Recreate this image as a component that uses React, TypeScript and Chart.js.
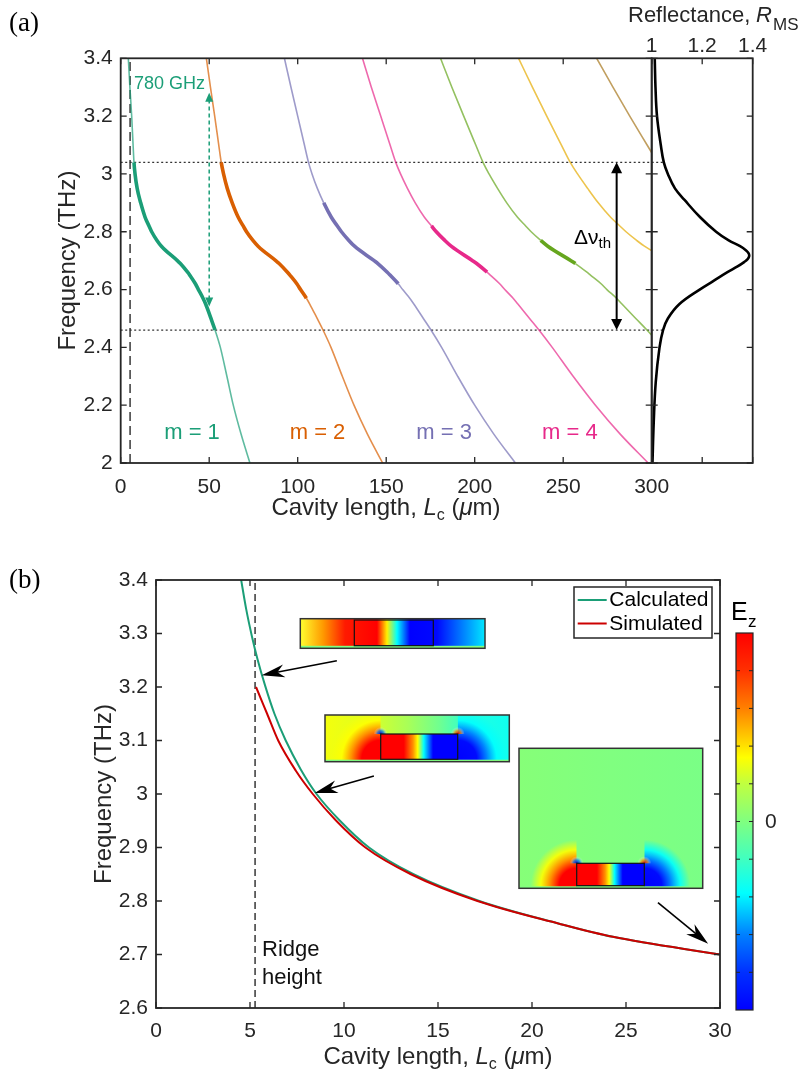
import React, { useEffect, useRef } from 'react';
import { Chart, registerables } from 'chart.js';

Chart.register(...registerables);

const SANS = '"Liberation Sans", Arial, Helvetica, sans-serif';
const SERIF = '"Liberation Serif", "DejaVu Serif", serif';
const INK = '#262626';

// ================= Panel (a): mode frequency vs cavity length =================
const FREQ = [3.4, 3.3, 3.2, 3.1, 3.04, 3.0, 2.95, 2.9, 2.85, 2.82, 2.8, 2.77, 2.75, 2.7, 2.69, 2.66, 2.65, 2.62, 2.6, 2.57, 2.55, 2.5, 2.46, 2.4, 2.3, 2.2, 2.1, 2.0];
const MODE1 = [4.3, 5.2, 6.2, 7.0, 7.5, 8.1, 9.3, 11.3, 13.8, 16.0, 17.5, 20.5, 23.0, 32.0, 33.7, 37.8, 39.0, 42.2, 43.9, 46.5, 48.0, 51.0, 53.3, 56.3, 60.0, 63.6, 68.0, 73.0];
const MODE2 = [48.4, 50.7, 53.1, 55.4, 56.8, 58.1, 60.2, 63.0, 66.4, 69.2, 71.1, 74.7, 77.6, 87.6, 89.5, 94.2, 95.6, 99.5, 101.6, 104.9, 106.8, 111.0, 114.3, 118.8, 125.2, 131.8, 139.4, 148.0];
const MODE3 = [92.5, 96.2, 100.0, 103.8, 106.1, 108.1, 111.1, 114.7, 119.0, 122.4, 124.7, 128.9, 132.1, 143.2, 145.3, 150.6, 152.2, 156.8, 159.3, 163.3, 165.6, 171.0, 175.3, 181.3, 190.4, 200.0, 210.8, 223.0];
const MODE4 = [136.6, 141.6, 146.9, 152.2, 155.4, 158.1, 162.0, 166.4, 171.6, 175.6, 178.3, 183.1, 186.7, 198.8, 201.1, 207.0, 208.8, 214.1, 217.0, 221.7, 224.4, 231.0, 236.3, 243.8, 255.6, 268.2, 282.2, 298.0];
const MODE5 = [180.7, 187.1, 193.8, 200.6, 204.7, 208.1, 212.9, 218.1, 224.2, 228.8, 231.9, 237.3, 241.3, 254.4, 256.9, 263.4, 265.4, 271.4, 274.7, 280.1, 283.2, 291.0, 297.3, 306.3];
const MODE6 = [224.8, 232.6, 240.7, 249.0, 254.0, 258.1, 263.8, 269.8, 276.8, 282.0, 285.5, 291.5, 295.9, 310.0];
const MODE7 = [268.9, 278.1, 287.6, 297.4, 303.3];
const MODE_COLORS = ['#1b9e77', '#d95f02', '#7570b3', '#e7298a', '#66a61e', '#e6ab02', '#a6761d'];
const MODE_LABELS = ['m = 1', 'm = 2', 'm = 3', 'm = 4'];
const MODE_LABEL_L = [40.3, 111.2, 182.7, 253.8];
const MODE_LABEL_F = 2.083;
const GAIN_TOP = [3.04, 3.04, 2.9, 2.82, 2.77];
const GAIN_BOTTOM = [2.46, 2.57, 2.62, 2.66, 2.69];
const THRESHOLD_F = [3.04, 2.46];
const THRESHOLD_R = [1.048, 1.05];
const RIDGE_A = 5.3;
const FSR_X = 50;
const FSR_F = [2.541, 3.281];
const FSR_TEXT = '780 GHz';
const DNU_X = 280.2;
const A_X_TICKS = [0, 50, 100, 150, 200, 250, 300];
const A_Y_TICKS = [2, 2.2, 2.4, 2.6, 2.8, 3, 3.2, 3.4];

// Reflectance R_MS
const REFL_F = [2.0, 2.14, 2.28, 2.4, 2.46, 2.5, 2.55, 2.6, 2.63, 2.66, 2.68, 2.695, 2.705, 2.715, 2.725, 2.735, 2.75, 2.77, 2.8, 2.85, 2.91, 2.95, 3.0, 3.04, 3.1, 3.2, 3.3, 3.4];
const REFL_R = [1.003, 1.008, 1.016, 1.031, 1.045, 1.064, 1.11, 1.19, 1.245, 1.3, 1.34, 1.366, 1.38, 1.386, 1.384, 1.374, 1.35, 1.305, 1.255, 1.192, 1.13, 1.092, 1.064, 1.048, 1.036, 1.021, 1.015, 1.012];
const R_X_TICKS = [1, 1.2, 1.4];

// ================= Panel (b): calculated vs simulated =================
const CALC_L = [4.53, 4.8, 5.1, 5.4, 5.8, 6.3, 6.9, 7.7, 8.54, 9.76, 11.33, 13.7, 17.2, 21.4, 24.3, 30];
const CALC_F = [3.4, 3.345, 3.295, 3.252, 3.203, 3.15, 3.1, 3.046, 3.0, 2.951, 2.9, 2.85, 2.8, 2.758, 2.733, 2.7];
const SIM_L = [5.32, 5.91, 6.5, 7.43, 8.34, 9.56, 11.14, 13.56, 17.1, 21.4, 24.3, 30];
const SIM_F = [3.2, 3.15, 3.1, 3.044, 3.0, 2.951, 2.9, 2.85, 2.8, 2.758, 2.733, 2.7];
const RIDGE_B = 5.27;
const B_X_TICKS = [0, 5, 10, 15, 20, 25, 30];
const B_Y_TICKS = [2.6, 2.7, 2.8, 2.9, 3.0, 3.1, 3.2, 3.3, 3.4];
const ARROWS_B = [
  [9.62, 3.249, 5.62, 3.222],
  [11.59, 3.0335, 8.44, 3.002],
  [26.7, 2.797, 29.37, 2.72],
];

const OFF_B = 530;
const by = (y: number) => y - OFF_B;
const fmt = (v: number) => String(Math.round(v * 100) / 100);
const pts = (xs: number[], ys: number[]) => xs.map((x, i) => ({ x, y: ys[i] }));

function rgba(hex: string, a: number) {
  const n = parseInt(hex.slice(1), 16);
  return `rgba(${(n >> 16) & 255},${(n >> 8) & 255},${n & 255},${a})`;
}

function scaleCfg(min: number, max: number, ticks: number[], position: string, size: number, padding: number) {
  const horizontal = position === 'top' || position === 'bottom';
  return {
    type: 'linear',
    position,
    min,
    max,
    grid: { display: false, drawTicks: false },
    border: { display: false },
    ticks: {
      font: { family: SANS, size: 21 },
      color: INK,
      padding,
      autoSkip: false,
      maxRotation: 0,
      minRotation: 0,
      callback: (v: any) => fmt(Number(v)),
    },
    afterBuildTicks: (s: any) => {
      s.ticks = ticks.map((v) => ({ value: v }));
    },
    afterFit: (s: any) => {
      if (horizontal) s.height = size;
      else s.width = size;
    },
  };
}

function drawRuns(ctx: any, runs: any[], x: number, y: number, align: string) {
  ctx.textAlign = 'left';
  let total = 0;
  for (const r of runs) {
    ctx.font = r.font;
    total += ctx.measureText(r.t).width;
  }
  let cx = align === 'center' ? x - total / 2 : align === 'right' ? x - total : x;
  for (const r of runs) {
    ctx.font = r.font;
    ctx.fillStyle = r.color || INK;
    ctx.fillText(r.t, cx, y + (r.dy || 0));
    cx += ctx.measureText(r.t).width;
  }
}

function arrowHead(ctx: any, tx: number, ty: number, fx: number, fy: number, len: number, half: number, back: number) {
  const a = Math.atan2(ty - fy, tx - fx);
  const c = Math.cos(a);
  const s = Math.sin(a);
  const bx = tx - len * c;
  const byy = ty - len * s;
  const ix = tx - (len - back) * c;
  const iy = ty - (len - back) * s;
  ctx.beginPath();
  ctx.moveTo(tx, ty);
  ctx.lineTo(bx - half * s, byy + half * c);
  ctx.lineTo(ix, iy);
  ctx.lineTo(bx + half * s, byy - half * c);
  ctx.closePath();
  ctx.fill();
}

function frameTicks(id: string, cfg: any) {
  return {
    id,
    afterDatasetsDraw(chart: any) {
      const { ctx, chartArea: a, scales } = chart;
      const L = 6;
      ctx.save();
      ctx.strokeStyle = INK;
      ctx.lineWidth = 1.3;
      ctx.beginPath();
      for (const v of cfg.xTicks) {
        const p = scales.x.getPixelForValue(v);
        if (cfg.bottom) {
          ctx.moveTo(p, a.bottom);
          ctx.lineTo(p, a.bottom - L);
        }
        if (cfg.top) {
          ctx.moveTo(p, a.top);
          ctx.lineTo(p, a.top + L);
        }
      }
      for (const v of cfg.yTicks) {
        const p = scales.y.getPixelForValue(v);
        if (cfg.left) {
          ctx.moveTo(a.left, p);
          ctx.lineTo(a.left + L, p);
        }
        if (cfg.right) {
          ctx.moveTo(a.right, p);
          ctx.lineTo(a.right - L, p);
        }
      }
      ctx.stroke();
      ctx.lineWidth = 1.8;
      ctx.strokeRect(a.left, a.top, a.right - a.left, a.bottom - a.top);
      ctx.restore();
    },
  };
}

const X_TITLE_RUNS = [
  { t: 'Cavity length, ', font: `24px ${SANS}` },
  { t: 'L', font: `italic 24px ${SANS}` },
  { t: 'c', font: `16px ${SANS}`, dy: 5 },
  { t: ' (', font: `24px ${SANS}` },
  { t: 'μ', font: `italic 24px ${SANS}` },
  { t: 'm)', font: `24px ${SANS}` },
];

// ---------------- chart (a) main ----------------
function cfgA() {
  const modes = [MODE1, MODE2, MODE3, MODE4, MODE5, MODE6, MODE7];
  const modeSets = modes.map((arr, m) => {
    const color = MODE_COLORS[m];
    const light = rgba(color, 0.7);
    const hasGain = m < GAIN_TOP.length;
    const inGain = (c: any) =>
      hasGain &&
      c.p0.parsed.y <= GAIN_TOP[m] + 1e-9 &&
      c.p1.parsed.y <= GAIN_TOP[m] + 1e-9 &&
      c.p0.parsed.y >= GAIN_BOTTOM[m] - 1e-9 &&
      c.p1.parsed.y >= GAIN_BOTTOM[m] - 1e-9;
    return {
      label: `mode ${m + 1}`,
      data: pts(arr, FREQ.slice(0, arr.length)),
      showLine: true,
      borderColor: light,
      borderWidth: 1.6,
      pointRadius: 0,
      cubicInterpolationMode: 'monotone',
      order: 1,
      segment: {
        borderColor: (c: any) => (inGain(c) ? color : light),
        borderWidth: (c: any) => (inGain(c) ? 3.6 : 1.6),
      },
    };
  });
  const refSets = [
    ...THRESHOLD_F.map((f) => ({
      data: [{ x: 0, y: f }, { x: 300, y: f }],
      showLine: true,
      borderColor: '#333',
      borderWidth: 1.2,
      borderDash: [2, 2.5],
      pointRadius: 0,
      order: 2,
    })),
    {
      data: [{ x: RIDGE_A, y: 2 }, { x: RIDGE_A, y: 3.4 }],
      showLine: true,
      borderColor: '#444',
      borderWidth: 1.6,
      borderDash: [9, 5],
      pointRadius: 0,
      order: 2,
    },
  ];

  const annot = {
    id: 'annotA',
    afterDatasetsDraw(chart: any) {
      const { ctx, scales } = chart;
      const x = scales.x;
      const y = scales.y;
      ctx.save();
      const gx = x.getPixelForValue(FSR_X);
      const g0 = y.getPixelForValue(FSR_F[0]);
      const g1 = y.getPixelForValue(FSR_F[1]);
      ctx.strokeStyle = MODE_COLORS[0];
      ctx.fillStyle = MODE_COLORS[0];
      ctx.lineWidth = 1.5;
      ctx.setLineDash([4, 3]);
      ctx.beginPath();
      ctx.moveTo(gx, g0 - 7);
      ctx.lineTo(gx, g1 + 7);
      ctx.stroke();
      ctx.setLineDash([]);
      arrowHead(ctx, gx, g0, gx, g1, 9, 4, 0);
      arrowHead(ctx, gx, g1, gx, g0, 9, 4, 0);
      const kx = x.getPixelForValue(DNU_X);
      const k0 = y.getPixelForValue(THRESHOLD_F[1]);
      const k1 = y.getPixelForValue(THRESHOLD_F[0]);
      ctx.strokeStyle = '#000';
      ctx.fillStyle = '#000';
      ctx.lineWidth = 2;
      ctx.beginPath();
      ctx.moveTo(kx, k0 - 8);
      ctx.lineTo(kx, k1 + 8);
      ctx.stroke();
      arrowHead(ctx, kx, k0, kx, k1, 11, 5.5, 0);
      arrowHead(ctx, kx, k1, kx, k0, 11, 5.5, 0);

      ctx.textBaseline = 'alphabetic';
      ctx.textAlign = 'left';
      ctx.fillStyle = '#000';
      ctx.font = `27px ${SERIF}`;
      ctx.fillText('(a)', 9, 31);
      ctx.save();
      ctx.translate(75, 260.6);
      ctx.rotate(-Math.PI / 2);
      ctx.textAlign = 'center';
      ctx.font = `24px ${SANS}`;
      ctx.fillStyle = INK;
      ctx.fillText('Frequency (THz)', 0, 0);
      ctx.restore();
      drawRuns(ctx, X_TITLE_RUNS, 386, 515, 'center');
      ctx.textAlign = 'left';
      ctx.font = `18px ${SANS}`;
      ctx.fillStyle = MODE_COLORS[0];
      ctx.fillText(FSR_TEXT, 134, 88.5);
      ctx.font = `22px ${SANS}`;
      ctx.textAlign = 'center';
      MODE_LABELS.forEach((t, i) => {
        ctx.fillStyle = MODE_COLORS[i];
        ctx.fillText(t, x.getPixelForValue(MODE_LABEL_L[i]), y.getPixelForValue(MODE_LABEL_F));
      });
      drawRuns(
        ctx,
        [
          { t: 'Δν', font: `21px ${SANS}`, color: '#000' },
          { t: 'th', font: `15px ${SANS}`, dy: 4, color: '#000' },
        ],
        574,
        244,
        'left'
      );
      ctx.restore();
    },
  };

  return {
    type: 'scatter',
    data: { datasets: [...modeSets, ...refSets] },
    options: {
      animation: false,
      responsive: false,
      events: [],
      layout: { padding: { left: 70.7, right: 48.3, top: 58.3, bottom: 27 } },
      plugins: { legend: { display: false }, tooltip: { enabled: false } },
      scales: {
        x: scaleCfg(0, 300, A_X_TICKS, 'bottom', 40, 12),
        y: scaleCfg(2, 3.4, A_Y_TICKS, 'left', 50, 8),
      },
    },
    plugins: [frameTicks('frameA', { xTicks: A_X_TICKS, yTicks: A_Y_TICKS, top: true, bottom: true, left: true, right: true }), annot],
  };
}

// ---------------- chart (a) reflectance ----------------
function cfgR() {
  const title = {
    id: 'titleR',
    afterDraw(chart: any) {
      const ctx = chart.ctx;
      ctx.save();
      ctx.textBaseline = 'alphabetic';
      ctx.textAlign = 'left';
      ctx.fillStyle = INK;
      ctx.font = `22px ${SANS}`;
      ctx.fillText('Reflectance,', 28, 22);
      ctx.font = `italic 22px ${SANS}`;
      ctx.fillText('R', 156, 22);
      ctx.font = `17px ${SANS}`;
      ctx.fillText('MS', 173, 30);
      ctx.restore();
    },
  };
  return {
    type: 'scatter',
    data: {
      datasets: [
        {
          data: pts(REFL_R, REFL_F),
          showLine: true,
          borderColor: '#000',
          borderWidth: 2.6,
          borderJoinStyle: 'round',
          pointRadius: 0,
          tension: 0.4,
        },
        ...THRESHOLD_F.map((f, i) => ({
          data: [{ x: 1, y: f }, { x: THRESHOLD_R[i], y: f }],
          showLine: true,
          borderColor: '#333',
          borderWidth: 1.2,
          borderDash: [2, 2.5],
          pointRadius: 0,
        })),
      ],
    },
    options: {
      animation: false,
      responsive: false,
      events: [],
      layout: { padding: { left: 51.7, right: 56.3, top: 28.3, bottom: 67 } },
      plugins: { legend: { display: false }, tooltip: { enabled: false } },
      scales: {
        x: scaleCfg(1, 1.4, R_X_TICKS, 'top', 30, -1),
        y: { type: 'linear', min: 2, max: 3.4, display: false },
      },
    },
    plugins: [frameTicks('frameR', { xTicks: R_X_TICKS, yTicks: A_Y_TICKS, top: true, bottom: true, left: true, right: true }), title],
  };
}

// ---------------- chart (b) ----------------
function drawInset1(ctx: any) {
  const x0 = 300.3;
  const x1 = 485;
  const y0 = by(618.7);
  const y1 = by(648.3);
  const w = x1 - x0;
  const g = ctx.createLinearGradient(x0, 0, x1, 0);
  const stops: [number, string][] = [
    [300.3, '#ffff30'],
    [323, '#ff9a00'],
    [345, '#ff1a00'],
    [377, '#ff0000'],
    [387, '#fff000'],
    [397, '#00ffff'],
    [410, '#0000ff'],
    [437, '#0008ff'],
    [485, '#00e8ff'],
  ];
  stops.forEach(([px, c]) => g.addColorStop(Math.min(1, Math.max(0, (px - x0) / w)), c));
  ctx.fillStyle = g;
  ctx.fillRect(x0, y0, w, y1 - y0);
  ctx.fillStyle = '#80ff80';
  ctx.fillRect(x0, y1 - 2.5, w, 2.5);
  ctx.strokeStyle = '#111';
  ctx.lineWidth = 1.2;
  ctx.strokeRect(354.3, by(620), 79, 25.7);
  ctx.strokeStyle = '#333';
  ctx.lineWidth = 1.5;
  ctx.strokeRect(x0, y0, w, y1 - y0);
}

function drawDipoleInset(ctx: any, box: number[], rect: number[], base: [number, string][], radius: number) {
  const [x0, y0, x1, y1] = box;
  const [rx0, ry0, rx1, ry1] = rect;
  ctx.save();
  ctx.beginPath();
  ctx.rect(x0, y0, x1 - x0, y1 - y0);
  ctx.clip();
  const g = ctx.createLinearGradient(x0, 0, x1, 0);
  base.forEach(([t, c]) => g.addColorStop(t, c));
  ctx.fillStyle = g;
  ctx.fillRect(x0, y0, x1 - x0, y1 - y0);
  ctx.save();
  ctx.beginPath();
  ctx.rect(x0, y0, rx0 - x0, y1 - y0);
  ctx.clip();
  const gl = ctx.createRadialGradient(rx0, ry1, 0, rx0, ry1, radius);
  gl.addColorStop(0, 'rgba(255,0,0,1)');
  gl.addColorStop(0.38, 'rgba(255,0,0,1)');
  gl.addColorStop(0.58, 'rgba(255,140,0,1)');
  gl.addColorStop(0.78, 'rgba(255,255,0,0.9)');
  gl.addColorStop(1, 'rgba(255,255,0,0)');
  ctx.fillStyle = gl;
  ctx.fillRect(x0, y0, rx0 - x0, y1 - y0);
  ctx.restore();
  ctx.save();
  ctx.beginPath();
  ctx.rect(rx1, y0, x1 - rx1, y1 - y0);
  ctx.clip();
  const gr = ctx.createRadialGradient(rx1, ry1, 0, rx1, ry1, radius);
  gr.addColorStop(0, 'rgba(0,0,255,1)');
  gr.addColorStop(0.38, 'rgba(0,10,255,1)');
  gr.addColorStop(0.58, 'rgba(0,130,255,1)');
  gr.addColorStop(0.78, 'rgba(0,255,255,0.9)');
  gr.addColorStop(1, 'rgba(0,255,255,0)');
  ctx.fillStyle = gr;
  ctx.fillRect(rx1, y0, x1 - rx1, y1 - y0);
  ctx.restore();
  const gi = ctx.createLinearGradient(rx0, 0, rx1, 0);
  gi.addColorStop(0, '#ff0000');
  gi.addColorStop(0.3, '#ff0000');
  gi.addColorStop(0.42, '#ff9000');
  gi.addColorStop(0.48, '#ffff00');
  gi.addColorStop(0.56, '#00ffff');
  gi.addColorStop(0.68, '#0000ff');
  gi.addColorStop(1, '#0000ff');
  ctx.fillStyle = gi;
  ctx.fillRect(rx0, ry0, rx1 - rx0, ry1 - ry0);
  const hs = (cx: number, cy: number, inner: string, outer: string) => {
    const h = ctx.createRadialGradient(cx, cy, 0, cx, cy, 7);
    h.addColorStop(0, inner);
    h.addColorStop(0.5, outer);
    h.addColorStop(1, 'rgba(255,255,255,0)');
    ctx.fillStyle = h;
    ctx.fillRect(cx - 7, cy - 7, 14, 7);
  };
  hs(rx0, ry0, 'rgba(0,0,200,1)', 'rgba(0,120,255,0.7)');
  hs(rx1, ry0, 'rgba(220,0,0,1)', 'rgba(255,140,0,0.7)');
  ctx.fillStyle = '#80ff80';
  ctx.fillRect(x0, y1 - 2, x1 - x0, 2);
  ctx.restore();
  ctx.strokeStyle = '#111';
  ctx.lineWidth = 1.2;
  ctx.strokeRect(rx0, ry0, rx1 - rx0, ry1 - ry0);
  ctx.strokeStyle = '#333';
  ctx.lineWidth = 1.5;
  ctx.strokeRect(x0, y0, x1 - x0, y1 - y0);
}

function cfgB() {
  const decor = {
    id: 'decorB',
    afterDatasetsDraw(chart: any) {
      const { ctx, scales } = chart;
      const x = scales.x;
      const y = scales.y;
      ctx.save();
      drawInset1(ctx);
      drawDipoleInset(
        ctx,
        [325, by(715), 509.3, by(761.7)],
        [380.7, by(734), 457.7, by(759.3)],
        [
          [0, '#f4ff0c'],
          [0.22, '#e0ff20'],
          [0.45, '#a8ff58'],
          [0.62, '#70ff90'],
          [0.8, '#20ffe0'],
          [1, '#10fff0'],
        ],
        50
      );
      drawDipoleInset(
        ctx,
        [519, by(748.3), 702.7, by(888.3)],
        [576.7, by(863.3), 644.3, by(885.7)],
        [
          [0, '#86ff78'],
          [0.5, '#80ff80'],
          [1, '#7aff86'],
        ],
        46
      );
      ctx.strokeStyle = '#000';
      ctx.fillStyle = '#000';
      ctx.lineWidth = 1.6;
      for (const [l0, f0, l1, f1] of ARROWS_B) {
        const px0 = x.getPixelForValue(l0);
        const py0 = y.getPixelForValue(f0);
        const px1 = x.getPixelForValue(l1);
        const py1 = y.getPixelForValue(f1);
        const a = Math.atan2(py1 - py0, px1 - px0);
        ctx.beginPath();
        ctx.moveTo(px0, py0);
        ctx.lineTo(px1 - 14 * Math.cos(a), py1 - 14 * Math.sin(a));
        ctx.stroke();
        arrowHead(ctx, px1, py1, px0, py0, 23, 6.5, 7);
      }
      // legend
      const lx0 = 574;
      const ly0 = by(587);
      ctx.fillStyle = '#fff';
      ctx.fillRect(lx0, ly0, 138, 51);
      ctx.strokeStyle = INK;
      ctx.lineWidth = 1.5;
      ctx.strokeRect(lx0, ly0, 138, 51);
      const legendSets = chart.data.datasets.filter((d: any) => d.label);
      legendSets.forEach((d: any, i: number) => {
        const yy = by(600 + i * 23.5);
        ctx.strokeStyle = d.borderColor;
        ctx.lineWidth = 2;
        ctx.beginPath();
        ctx.moveTo(577.7, yy);
        ctx.lineTo(606.7, yy);
        ctx.stroke();
        ctx.fillStyle = '#000';
        ctx.font = `21px ${SANS}`;
        ctx.textAlign = 'left';
        ctx.textBaseline = 'middle';
        ctx.fillText(d.label, 609.3, yy + 0.5);
      });
      // colorbar
      const cx0 = 736;
      const cx1 = 753;
      const cy0 = by(633);
      const cy1 = by(1010);
      const cg = ctx.createLinearGradient(0, cy1, 0, cy0);
      const cstops: [number, string][] = [
        [0, '#0000ff'],
        [0.1, '#0030ff'],
        [0.2, '#0080ff'],
        [0.31, '#00ffff'],
        [0.4, '#40ffc0'],
        [0.5, '#80ff80'],
        [0.6, '#c0ff40'],
        [0.67, '#ffff00'],
        [0.8, '#ff8000'],
        [0.9, '#ff3000'],
        [1, '#ff0000'],
      ];
      cstops.forEach(([t, c]) => cg.addColorStop(t, c));
      ctx.fillStyle = cg;
      ctx.fillRect(cx0, cy0, cx1 - cx0, cy1 - cy0);
      ctx.strokeStyle = INK;
      ctx.lineWidth = 1;
      ctx.beginPath();
      for (let k = 1; k <= 9; k++) {
        const ty = cy0 + ((cy1 - cy0) * k) / 10;
        ctx.moveTo(cx0, ty);
        ctx.lineTo(cx0 + 4, ty);
        ctx.moveTo(cx1, ty);
        ctx.lineTo(cx1 - 4, ty);
      }
      ctx.stroke();
      ctx.lineWidth = 1.2;
      ctx.strokeRect(cx0, cy0, cx1 - cx0, cy1 - cy0);
      ctx.fillStyle = INK;
      ctx.font = `21px ${SANS}`;
      ctx.textBaseline = 'middle';
      ctx.textAlign = 'left';
      ctx.fillText('0', 765, (cy0 + cy1) / 2 + 1);
      ctx.textBaseline = 'alphabetic';
      ctx.font = `25px ${SANS}`;
      ctx.fillStyle = '#000';
      ctx.fillText('E', 731, by(620));
      ctx.font = `17px ${SANS}`;
      ctx.fillText('z', 748, by(627));
      ctx.font = `27px ${SERIF}`;
      ctx.fillText('(b)', 9, by(588));
      ctx.font = `22px ${SANS}`;
      ctx.fillStyle = '#111';
      ctx.fillText('Ridge', 262, by(956));
      ctx.fillText('height', 262, by(984));
      ctx.save();
      ctx.translate(111, by(794));
      ctx.rotate(-Math.PI / 2);
      ctx.textAlign = 'center';
      ctx.font = `24px ${SANS}`;
      ctx.fillStyle = INK;
      ctx.fillText('Frequency (THz)', 0, 0);
      ctx.restore();
      drawRuns(ctx, X_TITLE_RUNS, 438, by(1064), 'center');
      ctx.restore();
    },
  };
  return {
    type: 'scatter',
    data: {
      datasets: [
        {
          label: 'Calculated',
          data: pts(CALC_L, CALC_F),
          showLine: true,
          borderColor: '#1b9e77',
          borderWidth: 2,
          pointRadius: 0,
          cubicInterpolationMode: 'monotone',
          order: 1,
        },
        {
          label: 'Simulated',
          data: pts(SIM_L, SIM_F),
          showLine: true,
          borderColor: '#cc0000',
          borderWidth: 2,
          pointRadius: 0,
          cubicInterpolationMode: 'monotone',
          order: 0,
        },
        {
          data: [{ x: RIDGE_B, y: 2.6 }, { x: RIDGE_B, y: 3.4 }],
          showLine: true,
          borderColor: '#444',
          borderWidth: 1.6,
          borderDash: [7, 4],
          pointRadius: 0,
          order: 2,
        },
      ],
    },
    options: {
      animation: false,
      responsive: false,
      events: [],
      layout: { padding: { left: 106, right: 89, top: 50, bottom: 32 } },
      plugins: { legend: { display: false }, tooltip: { enabled: false } },
      scales: {
        x: scaleCfg(0, 30, B_X_TICKS, 'bottom', 40, 11),
        y: scaleCfg(2.6, 3.4, B_Y_TICKS, 'left', 50, 8),
      },
    },
    plugins: [frameTicks('frameB', { xTicks: B_X_TICKS, yTicks: B_Y_TICKS, top: true, bottom: true, left: true, right: true }), decor],
  };
}

export default function App() {
  const refA = useRef<HTMLCanvasElement>(null);
  const refR = useRef<HTMLCanvasElement>(null);
  const refB = useRef<HTMLCanvasElement>(null);
  useEffect(() => {
    const charts = [
      new Chart(refA.current as any, cfgA() as any),
      new Chart(refR.current as any, cfgR() as any),
      new Chart(refB.current as any, cfgB() as any),
    ];
    return () => charts.forEach((c) => c.destroy());
  }, []);
  return (
    <div style={{ position: 'absolute', left: 0, top: 0, width: 809, height: 1080, background: '#fff' }}>
      <canvas ref={refA} width={700} height={530} style={{ position: 'absolute', left: 0, top: 0 }} />
      <canvas ref={refR} width={209} height={530} style={{ position: 'absolute', left: 600, top: 0 }} />
      <canvas ref={refB} width={809} height={550} style={{ position: 'absolute', left: 0, top: 530 }} />
    </div>
  );
}
